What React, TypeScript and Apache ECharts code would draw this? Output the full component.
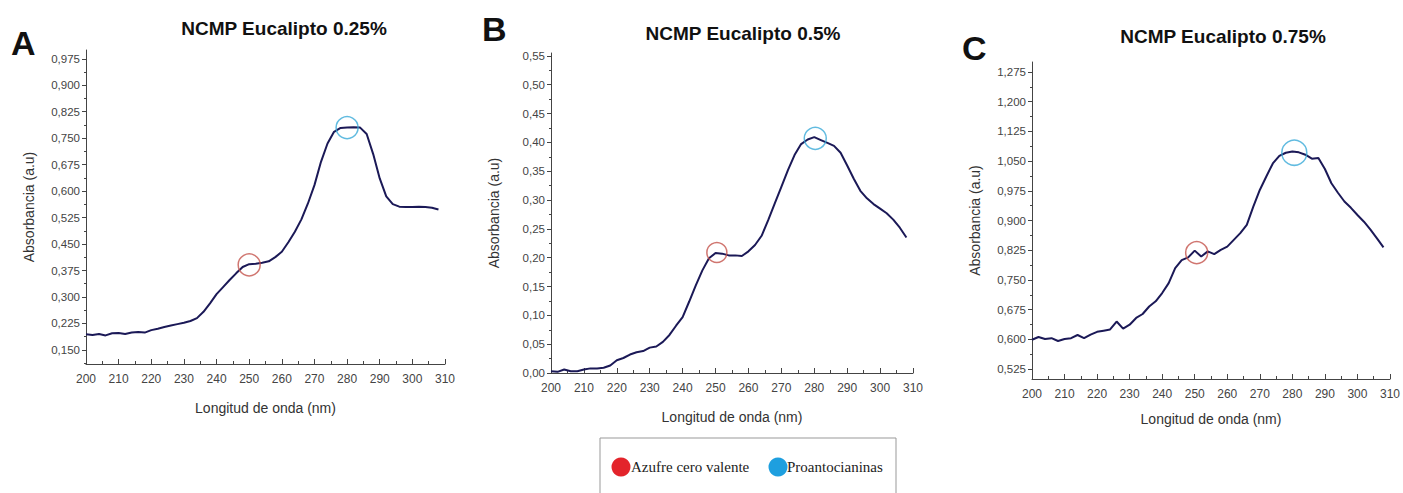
import React, { useEffect, useRef } from "react";
import * as echarts from "echarts";

// Wavelengths (nm)
const wavelengths = [
  200, 202, 204, 206, 208, 210, 212, 214, 216, 218, 220, 222, 224, 226, 228, 230, 232, 234, 236, 238,
  240, 242, 244, 246, 248, 250, 252, 254, 256, 258, 260, 262, 264, 266, 268, 270, 272, 274, 276, 278,
  280, 282, 284, 286, 288, 290, 292, 294, 296, 298, 300, 302, 304, 306, 308,
];

// Absorbance NCMP Eucalipto 0.25%
const absA = [
  0.194, 0.192, 0.195, 0.191, 0.197, 0.198, 0.195, 0.199, 0.201, 0.199, 0.206, 0.21, 0.215, 0.219, 0.223, 0.227, 0.232, 0.24, 0.258, 0.282,
  0.308, 0.328, 0.348, 0.367, 0.385, 0.393, 0.394, 0.397, 0.401, 0.413, 0.428, 0.455, 0.485, 0.52, 0.565, 0.617, 0.683, 0.735, 0.768, 0.779,
  0.78, 0.781, 0.78, 0.762, 0.705, 0.636, 0.585, 0.563, 0.556, 0.555, 0.555, 0.556, 0.555, 0.553, 0.548,
];

// Absorbance NCMP Eucalipto 0.5%
const absB = [
  0.003, 0.002, 0.006, 0.003, 0.003, 0.006, 0.008, 0.008, 0.009, 0.013, 0.022, 0.026, 0.032, 0.036, 0.038, 0.044, 0.046, 0.054, 0.066, 0.082,
  0.097, 0.124, 0.152, 0.178, 0.199, 0.208, 0.207, 0.204, 0.204, 0.203, 0.211, 0.222, 0.238, 0.265, 0.294, 0.323, 0.352, 0.378, 0.397, 0.405,
  0.409, 0.404, 0.399, 0.394, 0.382, 0.36, 0.337, 0.316, 0.303, 0.293, 0.285, 0.277, 0.266, 0.252, 0.235,
];

// Absorbance NCMP Eucalipto 0.75%
const absC = [
  0.599, 0.606, 0.601, 0.603, 0.596, 0.601, 0.603, 0.611, 0.603, 0.612, 0.619, 0.622, 0.625, 0.645, 0.627, 0.637, 0.654, 0.664, 0.683, 0.696,
  0.717, 0.742, 0.78, 0.8, 0.807, 0.824, 0.809, 0.822, 0.815, 0.826, 0.834, 0.851, 0.868, 0.889, 0.935, 0.977, 1.011, 1.044, 1.063, 1.071,
  1.074, 1.072, 1.066, 1.056, 1.058, 1.03, 0.994, 0.97, 0.948, 0.932, 0.914, 0.897, 0.877, 0.855, 0.832,
];

const titles = ["NCMP Eucalipto 0.25%", "NCMP Eucalipto 0.5%", "NCMP Eucalipto 0.75%"];
const panelLetters = ["A", "B", "C"];

// Marked peaks: [wavelength, absorbance]
const azufreMarks = [
  [250, 0.391],
  [250.4, 0.209],
  [250.6, 0.819],
];
const proantoMarks = [
  [280, 0.78],
  [280.3, 0.407],
  [280.6, 1.071],
];

// Y-axis ranges and tick labels
const yMin = [0.11, 0, 0.5];
const yMax = [1.0, 0.555, 1.3];
const yTicksA = [0.15, 0.225, 0.3, 0.375, 0.45, 0.525, 0.6, 0.675, 0.75, 0.825, 0.9, 0.975];
const yTicksB = [0, 0.05, 0.1, 0.15, 0.2, 0.25, 0.3, 0.35, 0.4, 0.45, 0.5, 0.55];
const yTicksC = [0.525, 0.6, 0.675, 0.75, 0.825, 0.9, 0.975, 1.05, 1.125, 1.2, 1.275];
const yMinorA = [0.1125, 0.1875, 0.2625, 0.3375, 0.4125, 0.4875, 0.5625, 0.6375, 0.7125, 0.7875, 0.8625, 0.9375];
const yMinorB = [0.025, 0.075, 0.125, 0.175, 0.225, 0.275, 0.325, 0.375, 0.425, 0.475, 0.525];
const yMinorC = [0.5625, 0.6375, 0.7125, 0.7875, 0.8625, 0.9375, 1.0125, 1.0875, 1.1625, 1.2375];
const yDecimals = [3, 2, 3];

const legendItems = ["Azufre cero valente", "Proantocianinas"];

export default function App() {
  const ref = useRef<HTMLDivElement>(null);

  useEffect(() => {
    if (!ref.current) return;
    const chart = echarts.init(ref.current, undefined, { renderer: "svg" });

    const grids = [
      { left: 86, top: 50, width: 359, height: 314 },
      { left: 551, top: 53, width: 362, height: 320 },
      { left: 1032, top: 62, width: 360, height: 317 },
    ];
    const absData = [absA, absB, absC];
    const majors = [yTicksA, yTicksB, yTicksC];
    const minors = [yMinorA, yMinorB, yMinorC];
    const axisColor = "#444";
    const font = "Liberation Sans, Arial, sans-serif";

    const xAxis: any[] = [];
    const yAxis: any[] = [];
    const series: any[] = [];

    for (let i = 0; i < 3; i++) {
      xAxis.push({
        type: "value",
        gridIndex: i,
        min: 200,
        max: 310,
        interval: 10,
        name: "Longitud de onda (nm)",
        nameLocation: "middle",
        nameGap: i === 2 ? 33 : 37,
        nameTextStyle: { color: "#333", fontSize: 14, fontFamily: font },
        axisLine: { lineStyle: { color: axisColor, width: 1 } },
        axisTick: { inside: true, length: 5, lineStyle: { color: axisColor } },
        minorTick: { show: true, splitNumber: 2, length: 3, lineStyle: { color: axisColor } },
        axisLabel: { color: "#444", fontSize: 12, margin: 9, fontFamily: font },
        splitLine: { show: false },
      });
      yAxis.push({
        type: "value",
        gridIndex: i,
        min: yMin[i],
        max: yMax[i],
        name: "Absorbancia (a.u)",
        nameLocation: "middle",
        nameGap: 50,
        nameTextStyle: { color: "#333", fontSize: 14, fontFamily: font },
        axisLine: { show: true, lineStyle: { color: axisColor, width: 1 } },
        axisTick: { show: true, length: 4, customValues: majors[i], lineStyle: { color: axisColor } },
        axisLabel: {
          color: "#444",
          fontSize: 11.5,
          margin: 6,
          fontFamily: font,
          customValues: majors[i],
          formatter: (v: number) => v.toFixed(yDecimals[i]).replace(".", ","),
        },
        splitLine: { show: false },
      });
      yAxis.push({
        type: "value",
        gridIndex: i,
        min: yMin[i],
        max: yMax[i],
        position: "left",
        axisLine: { show: false },
        axisTick: { show: true, length: 2, customValues: minors[i], lineStyle: { color: axisColor } },
        axisLabel: { show: false, customValues: minors[i] },
        splitLine: { show: false },
      });
      series.push({
        type: "line",
        xAxisIndex: i,
        yAxisIndex: i * 2,
        data: wavelengths.map((w, k) => [w, absData[i][k]]),
        showSymbol: false,
        smooth: false,
        lineStyle: { color: "#1b1957", width: 2 },
        z: 2,
      });
      series.push({
        type: "scatter",
        xAxisIndex: i,
        yAxisIndex: i * 2,
        data: [azufreMarks[i]],
        symbol: "circle",
        symbolSize: i === 1 ? 20 : 22,
        itemStyle: { color: "rgba(0,0,0,0)", borderColor: "#c4544c", borderWidth: 1.5 },
        z: 3,
      });
      series.push({
        type: "scatter",
        xAxisIndex: i,
        yAxisIndex: i * 2,
        data: [proantoMarks[i]],
        symbol: "circle",
        symbolSize: i === 2 ? 25 : 22,
        itemStyle: { color: "rgba(0,0,0,0)", borderColor: "#3aaad8", borderWidth: 1.5 },
        z: 3,
      });
    }

    const titlePos = [
      { x: 284, y: 19 },
      { x: 743, y: 24 },
      { x: 1223, y: 27 },
    ];
    const letterPos = [
      { x: 11, y: 26 },
      { x: 482, y: 12 },
      { x: 962, y: 31 },
    ];

    const graphic: any[] = [];
    for (let i = 0; i < 3; i++) {
      graphic.push({
        type: "text",
        x: titlePos[i].x,
        y: titlePos[i].y,
        style: {
          text: titles[i],
          font: `bold 19px ${font}`,
          fill: "#111",
          textAlign: "center",
        },
      });
      graphic.push({
        type: "text",
        x: letterPos[i].x,
        y: letterPos[i].y,
        style: {
          text: panelLetters[i],
          font: `bold 34px ${font}`,
          fill: "#111",
        },
      });
    }
    // Legend box
    graphic.push(
      { type: "line", shape: { x1: 600, y1: 438, x2: 896, y2: 438 }, style: { stroke: "#999", lineWidth: 1 } },
      { type: "line", shape: { x1: 600, y1: 438, x2: 600, y2: 493 }, style: { stroke: "#999", lineWidth: 1 } },
      { type: "line", shape: { x1: 896, y1: 438, x2: 896, y2: 493 }, style: { stroke: "#999", lineWidth: 1 } },
      { type: "circle", shape: { cx: 621, cy: 467, r: 9.5 }, style: { fill: "#e3242b" } },
      {
        type: "text",
        x: 631,
        y: 467,
        style: { text: legendItems[0], font: "15px Liberation Serif, Times New Roman, serif", fill: "#222", textVerticalAlign: "middle" },
      },
      { type: "circle", shape: { cx: 778, cy: 467, r: 9.5 }, style: { fill: "#1e9fdf" } },
      {
        type: "text",
        x: 787,
        y: 467,
        style: { text: legendItems[1], font: "15px Liberation Serif, Times New Roman, serif", fill: "#222", textVerticalAlign: "middle" },
      }
    );

    chart.setOption({
      animation: false,
      backgroundColor: "#fff",
      grid: grids,
      xAxis,
      yAxis,
      series,
      graphic,
    });

    return () => chart.dispose();
  }, []);

  return (
    <div
      ref={ref}
      style={{ position: "absolute", left: 0, top: 0, width: 1403, height: 493 }}
    />
  );
}
